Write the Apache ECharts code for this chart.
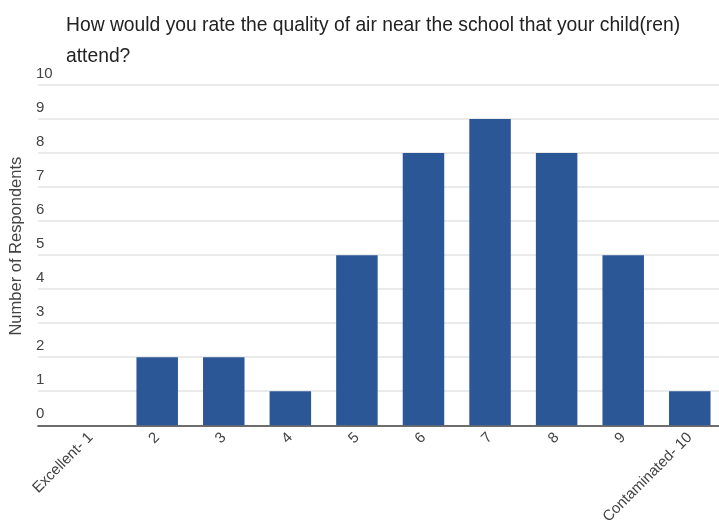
<!DOCTYPE html>
<html>
<head>
<meta charset="utf-8">
<script src="https://cdn.jsdelivr.net/npm/echarts@6/dist/echarts.min.js"></script>
<style>html,body{margin:0;padding:0;background:#fff}#c{width:719px;height:527px}</style>
</head>
<body>
<div id="c"></div>
<script>
const categories = ['Excellent- 1','2','3','4','5','6','7','8','9','Contaminated- 10'];
const values = [0,2,2,1,5,8,9,8,5,1];
const yTicks = [0,1,2,3,4,5,6,7,8,9,10];

const chart = echarts.init(document.getElementById('c'));
const font = 'Liberation Sans, Arial, sans-serif';
chart.setOption({
  animation: false,
  title: {
    text: 'How would you rate the quality of air near the school that your child(ren)\nattend?',
    left: 61, top: 5,
    textStyle: {fontFamily: font, fontSize: 19.3, fontWeight: 'normal', color: '#222', lineHeight: 31}
  },
  grid: {left: 31, right: 0, top: 85, bottom: 99},
  xAxis: {
    type: 'value', min: 0.208, max: 10.439,
    splitLine: {show: false},
    axisTick: {show: false},
    axisLine: {show: true, onZero: false, lineStyle: {color: '#444', width: 1.5}},
    axisLabel: {
      customValues: categories.map((c, i) => i + 1),
      formatter: v => categories[Math.round(v) - 1],
      rotate: 45, margin: 10,
      fontFamily: font, fontSize: 15, color: '#444'
    }
  },
  yAxis: {
    type: 'value', min: 0, max: 10, interval: 1,
    name: 'Number of Respondents', nameLocation: 'middle', nameGap: 7,
    nameTextStyle: {fontFamily: font, fontSize: 16.5, color: '#444', padding: [0, 0, 0, 18]},
    axisLine: {show: false}, axisTick: {show: false},
    splitLine: {lineStyle: {color: '#e3e3e3', width: 1.5}},
    axisLabel: {
      inside: true, margin: -2, align: 'left', verticalAlign: 'bottom',
      padding: [0, 0, 4, 0],
      customValues: yTicks,
      fontFamily: font, fontSize: 15, color: '#444'
    }
  },
  series: [{
    type: 'bar',
    barWidth: 41.5,
    data: categories.map((c, i) => [i + 1, values[i]]),
    itemStyle: {color: '#2b5797'}
  }]
});
</script>
</body>
</html>
